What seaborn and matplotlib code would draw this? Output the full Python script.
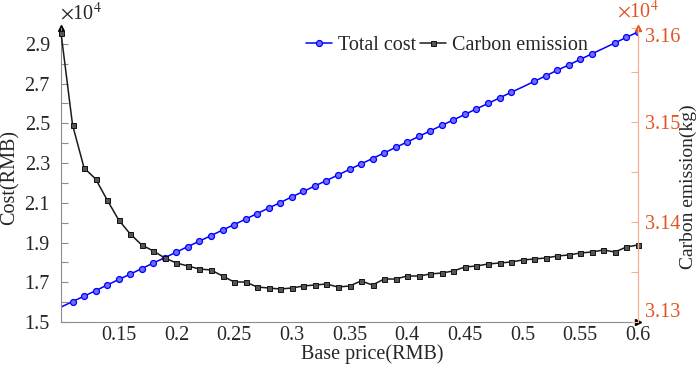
import matplotlib.pyplot as plt
import seaborn as sns
import numpy as np
import pandas as pd

# base price (RMB)
price = [0.10, 0.11, 0.12, 0.13, 0.14, 0.15, 0.16, 0.17, 0.18, 0.19,
         0.20, 0.21, 0.22, 0.23, 0.24, 0.25, 0.26, 0.27, 0.28, 0.29,
         0.30, 0.31, 0.32, 0.33, 0.34, 0.35, 0.36, 0.37, 0.38, 0.39,
         0.40, 0.41, 0.42, 0.43, 0.44, 0.45, 0.46, 0.47, 0.48, 0.49,
         0.50, 0.51, 0.52, 0.53, 0.54, 0.55, 0.56, 0.57, 0.58, 0.59, 0.60]

# total cost (x1e4 RMB)
cost = [1.575, 1.603, 1.630, 1.658, 1.686, 1.714, 1.741, 1.769, 1.797, 1.824,
        1.852, 1.880, 1.907, 1.935, 1.963, 1.990, 2.018, 2.046, 2.074, 2.101,
        2.130, 2.157, 2.185, 2.212, 2.240, 2.268, 2.296, 2.323, 2.351, 2.379,
        2.406, 2.434, 2.462, 2.490, 2.517, 2.545, 2.573, 2.600, 2.628, 2.656,
        2.683, 2.711, 2.739, 2.767, 2.794, 2.822, 2.850, 2.877, 2.905, 2.933, 2.960]

# carbon emission (x1e4 kg)
carbon = [3.1589, 3.1497, 3.1454, 3.1443, 3.1422, 3.1402, 3.1388, 3.1377, 3.1371, 3.1364,
          3.1359, 3.1356, 3.1353, 3.1352, 3.1346, 3.1340, 3.1340, 3.1335, 3.1334, 3.1333,
          3.1334, 3.1336, 3.1337, 3.1338, 3.1335, 3.1336, 3.1341, 3.1337, 3.1343, 3.1343,
          3.1346, 3.1346, 3.1348, 3.1349, 3.1351, 3.1355, 3.1356, 3.1358, 3.1359, 3.1360,
          3.1362, 3.1363, 3.1364, 3.1366, 3.1367, 3.1369, 3.1370, 3.1372, 3.1370, 3.1375, 3.1377]

cost_marks = [i for i in range(len(price)) if i not in (0, 40, 47)]

x_ticks = [0.15, 0.2, 0.25, 0.3, 0.35, 0.4, 0.45, 0.5, 0.55, 0.6]
x_labels = ['0.15', '0.2', '0.25', '0.3', '0.35', '0.4', '0.45', '0.5', '0.55', '0.6']
cost_ticks = [1.5, 1.7, 1.9, 2.1, 2.3, 2.5, 2.7, 2.9]
carbon_ticks = [3.13, 3.14, 3.15, 3.1594]
carbon_labels = ['3.13', '3.14', '3.15', '3.16']

df = pd.DataFrame({'price': price, 'cost': cost, 'carbon': carbon})

sns.set_style('white')
plt.rcParams['font.family'] = ['Liberation Serif', 'DejaVu Serif']
plt.rcParams['mathtext.fontset'] = 'stix'

fs = 14.5
orange = '#E2531F'
orange_light = '#F5B08F'
gray = '#8C8C8C'

fig = plt.figure(figsize=(6.99, 3.66), dpi=100)
ax = fig.add_axes([0.0873, 0.1202, 0.8254, 0.8033])
ax2 = ax.twinx()

sns.lineplot(data=df, x='price', y='cost', ax=ax, color='#0000FF', lw=1.1,
             marker='o', markersize=4.3, markerfacecolor='#7070FF',
             markeredgecolor='#0000FF', markeredgewidth=0.9,
             markevery=cost_marks, label='Total cost', legend=False)
sns.lineplot(data=df, x='price', y='carbon', ax=ax2, color='#1A1A1A', lw=1.1,
             marker='s', markersize=3.6, markerfacecolor='#555555',
             markeredgecolor='#111111', markeredgewidth=0.7,
             label='Carbon emission', legend=False, clip_on=False)

ax.set_xlim(0.1, 0.6)
ax.set_ylim(1.5, 2.98)
ax2.set_ylim(3.13, 3.1594)

ax.set_xticks(x_ticks)
ax.set_xticklabels(x_labels)
ax.set_yticks(cost_ticks)
ax.set_yticklabels([f'{v:.1f}' for v in cost_ticks])
ax.set_yticks(np.arange(1.6, 2.95, 0.2), minor=True)
ax2.set_yticks(carbon_ticks)
ax2.set_yticklabels(carbon_labels)
ax2.set_yticks([3.135, 3.145, 3.155], minor=True)

ax.tick_params(axis='both', which='both', direction='in', labelsize=fs,
               color=gray, length=5, width=0.8)
ax.tick_params(axis='x', pad=3)
ax.tick_params(axis='y', pad=8)
ax2.tick_params(axis='y', which='both', direction='in', labelsize=fs,
                colors=orange, length=5, width=0.8, pad=5)
ax2.tick_params(axis='y', which='both', color=orange_light)

lbls = ax2.get_yticklabels()
lbls[0].set_va('bottom')
lbls[-1].set_va('top')

ax.spines['top'].set_visible(False)
ax2.spines['top'].set_visible(False)
ax.spines['right'].set_visible(False)
ax.spines['left'].set_color(gray)
ax.spines['bottom'].set_color(gray)
ax.spines['left'].set_linewidth(0.8)
ax.spines['bottom'].set_linewidth(0.8)
ax2.spines['left'].set_visible(False)
ax2.spines['bottom'].set_visible(False)
ax2.spines['right'].set_color(orange_light)
ax2.spines['right'].set_linewidth(0.9)

# axis arrows
ax.plot(0, 1, marker='^', color='black', markersize=5, transform=ax.transAxes, clip_on=False)
ax.plot(1, 0, marker='>', color='black', markersize=5, transform=ax.transAxes, clip_on=False)
ax2.plot(1, 1, marker='^', color=orange, markersize=5, transform=ax2.transAxes, clip_on=False)

ax.set_xlabel('Base price(RMB)', fontsize=fs)
ax.xaxis.set_label_coords(0.539, -0.075)
ax.set_ylabel('Cost(RMB)', fontsize=fs)
ax.yaxis.set_label_coords(-0.072, 0.49)
ax2.set_ylabel('Carbon emission(kg)', fontsize=14)
ax2.yaxis.set_label_coords(1.072, 0.46)

fig.text(0.086, 0.962, r'$\times$10$^4$', fontsize=fs, ha='left', va='center')
fig.text(0.882, 0.967, r'$\times$10$^4$', fontsize=fs, ha='left', va='center', color=orange)

h1, l1 = ax.get_legend_handles_labels()
h2, l2 = ax2.get_legend_handles_labels()
leg = ax2.legend(h1 + h2, l1 + l2, loc='center', bbox_to_anchor=(0.669, 0.94),
                 ncol=2, frameon=False, fontsize=fs, handlelength=1.3,
                 handletextpad=0.3, columnspacing=0.15, borderpad=0.1)

fig.savefig('out.png', dpi=100)
